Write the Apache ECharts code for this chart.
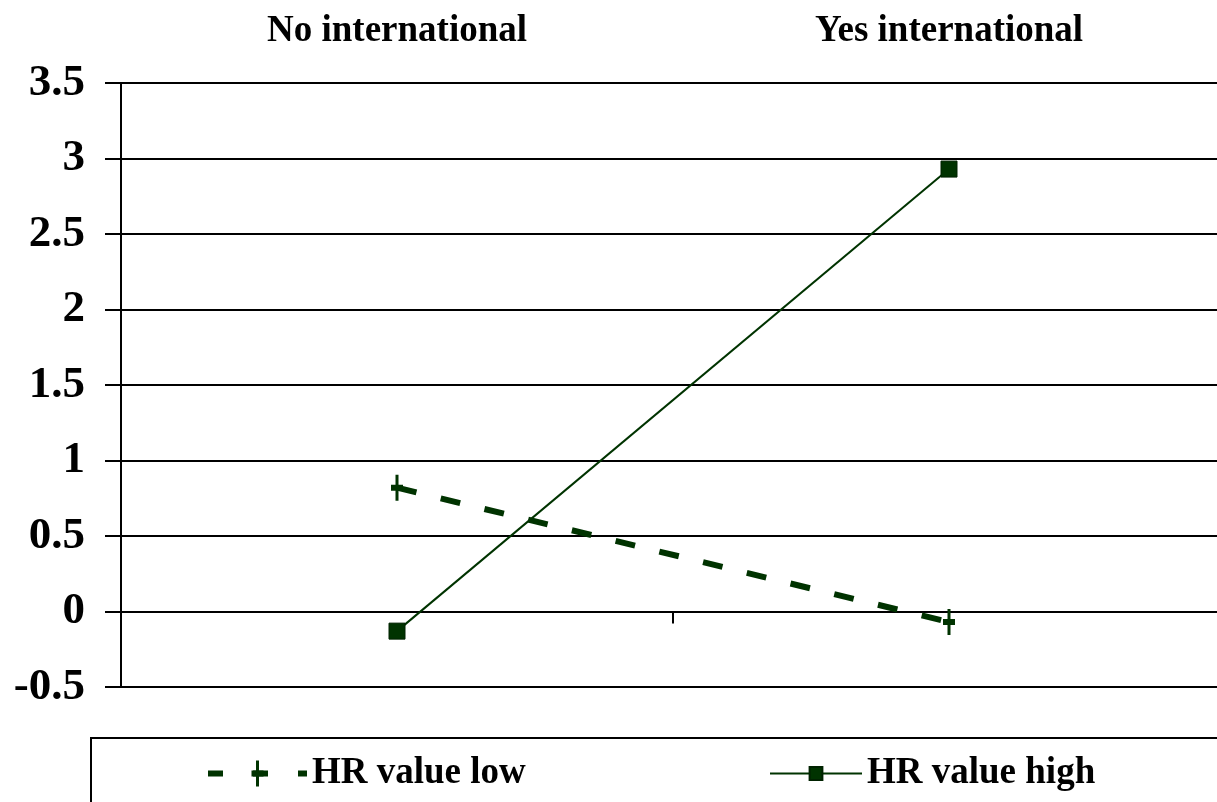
<!DOCTYPE html>
<html>
<head>
<meta charset="utf-8">
<script src="https://cdn.jsdelivr.net/npm/echarts@6/dist/echarts.min.js"></script>
<style>html,body{margin:0;padding:0;background:#fff;overflow:hidden;}#c{width:1240px;height:802px;}</style>
</head>
<body>
<div id="c"></div>
<script>
const categories = ['No international', 'Yes international'];
const hrLow = [0.82, -0.07];
const hrHigh = [-0.13, 2.93];
const seriesNames = ['HR value low', 'HR value high'];

const FONT = '"Liberation Serif", "Times New Roman", serif';
const GREEN = '#003300';
// plus marker drawn inside a 26x26 box (corner points keep the box square)
const plusPath = 'path://M0,0 L0,0 Z M26,26 L26,26 Z M11.5,0 L14.5,0 L14.5,10 L19,10 L19,16 L14.5,16 L14.5,26 L11.5,26 L11.5,16 L7,16 L7,10 L11.5,10 Z';

const chart = echarts.init(document.getElementById('c'), null, {renderer: 'canvas'});
chart.setOption({
  animation: false,
  backgroundColor: '#fff',
  grid: {left: 121, right: 15, top: 83, bottom: 115, containLabel: false},
  xAxis: [
    {
      type: 'category', data: categories, position: 'top', boundaryGap: true,
      axisLine: {show: false, onZero: false}, axisTick: {show: false}, splitLine: {show: false},
      axisLabel: {show: true, margin: 33, color: '#000', fontFamily: FONT, fontWeight: 'bold', fontSize: 37}
    },
    {
      type: 'category', data: categories, position: 'bottom', boundaryGap: true,
      axisLine: {show: true, onZero: true, lineStyle: {color: '#000', width: 2}},
      axisTick: {show: true, length: 12, lineStyle: {color: '#000', width: 2}},
      axisLabel: {show: false}, splitLine: {show: false}
    }
  ],
  yAxis: {
    type: 'value', min: -0.5, max: 3.5, interval: 0.5,
    axisLine: {show: true, onZero: false, lineStyle: {color: '#000', width: 2}},
    axisTick: {show: true, length: 16, lineStyle: {color: '#000', width: 2}},
    splitLine: {show: true, lineStyle: {color: '#000', width: 2}},
    axisLabel: {margin: 36, color: '#000', fontFamily: FONT, fontWeight: 'bold', fontSize: 45}
  },
  legend: [
    {
      data: [seriesNames[0]], left: 91, top: 738, orient: 'horizontal',
      padding: [17, 720, 40, 114], borderColor: '#000', borderWidth: 2,
      itemWidth: 99, itemHeight: 32.5, itemGap: 10,
      lineStyle: {width: 6, type: [15, 30]},
      textStyle: {color: '#000', fontFamily: FONT, fontWeight: 'bold', fontSize: 37}
    },
    {
      data: [seriesNames[1]], left: 769, top: 755, orient: 'horizontal',
      padding: 0, borderWidth: 0,
      itemWidth: 92, itemHeight: 16, itemGap: 10,
      lineStyle: {width: 2},
      textStyle: {color: '#000', fontFamily: FONT, fontWeight: 'bold', fontSize: 37}
    }
  ],
  series: [
    {
      name: seriesNames[0], type: 'line', data: hrLow, xAxisIndex: 1,
      symbol: plusPath, symbolSize: 26, symbolKeepAspect: true,
      lineStyle: {color: GREEN, width: 6, type: [20, 25], cap: 'butt'},
      itemStyle: {color: GREEN, borderWidth: 0}
    },
    {
      name: seriesNames[1], type: 'line', data: hrHigh, xAxisIndex: 1,
      symbol: 'rect', symbolSize: 16,
      lineStyle: {color: GREEN, width: 2},
      itemStyle: {color: GREEN, borderColor: '#002200', borderWidth: 1}
    }
  ]
});
</script>
</body>
</html>
